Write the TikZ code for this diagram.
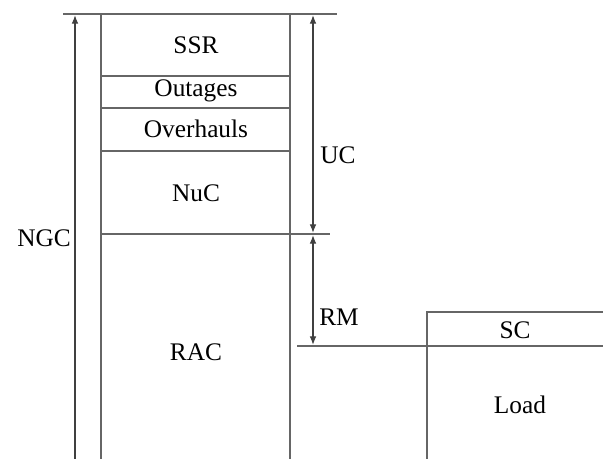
\documentclass[tikz,border=0pt]{standalone}
\usepackage{fontspec}
\setmainfont{Liberation Serif}
\usepackage{tikz}
\usetikzlibrary{arrows.meta}

\tikzset{
  wall/.style={draw=gray!80!black,line width=1.3pt},
  dim/.style={draw=black!75,line width=0.9pt,-{Latex[length=6.5pt,width=5pt]}},
  dimboth/.style={dim,{Latex[length=6.5pt,width=5pt]}-{Latex[length=6.5pt,width=5pt]}},
  lbl/.style={font=\fontsize{19}{22}\selectfont,inner sep=0pt}
}

\begin{document}
\begin{tikzpicture}[x=0.75pt,y=-0.75pt]
\useasboundingbox (0,0) rectangle (603,459);
% ---------- left column: capacity stack ----------
\draw[wall] (63,14) -- (337,14);
\draw[wall] (101,14) -- (101,459);
\draw[wall] (290,14) -- (290,459);
\draw[wall] (101,76) -- (290,76);
\draw[wall] (101,108) -- (290,108);
\draw[wall] (101,151) -- (290,151);
\draw[wall] (101,234) -- (330,234);
\node[lbl] (ssr) at (196,45) {SSR};
\node[lbl] (out) at (196,91) {Outages};
\node[lbl] (ovh) at (196,129) {Overhauls};
\node[lbl] (nuc) at (196,193) {NuC};
\node[lbl] (rac) at (196,352) {RAC};
% ---------- dimension arrows ----------
\coordinate (ngcbot) at (75,459);
\coordinate (ngctop) at (75,15);
\coordinate (uctop) at (313,15);
\coordinate (ucbot) at (313,233);
\coordinate (rmtop) at (313,235);
\coordinate (rmbot) at (313,345);
\draw[dim] (ngcbot) -- (ngctop);
\draw[dimboth] (uctop) -- (ucbot);
\draw[dimboth] (rmtop) -- (rmbot);
\node[lbl] (ngc) at (44,238) {NGC};
\node[lbl] (uc) at (338,155) {UC};
\node[lbl] (rm) at (339,317) {RM};
% ---------- right column: load ----------
\draw[wall] (297,346) -- (603,346);
\draw[wall] (427,459) -- (427,312) -- (603,312);
\node[lbl] (sc) at (515,330) {SC};
\node[lbl] (load) at (520,405) {Load};
\end{tikzpicture}
\end{document}
